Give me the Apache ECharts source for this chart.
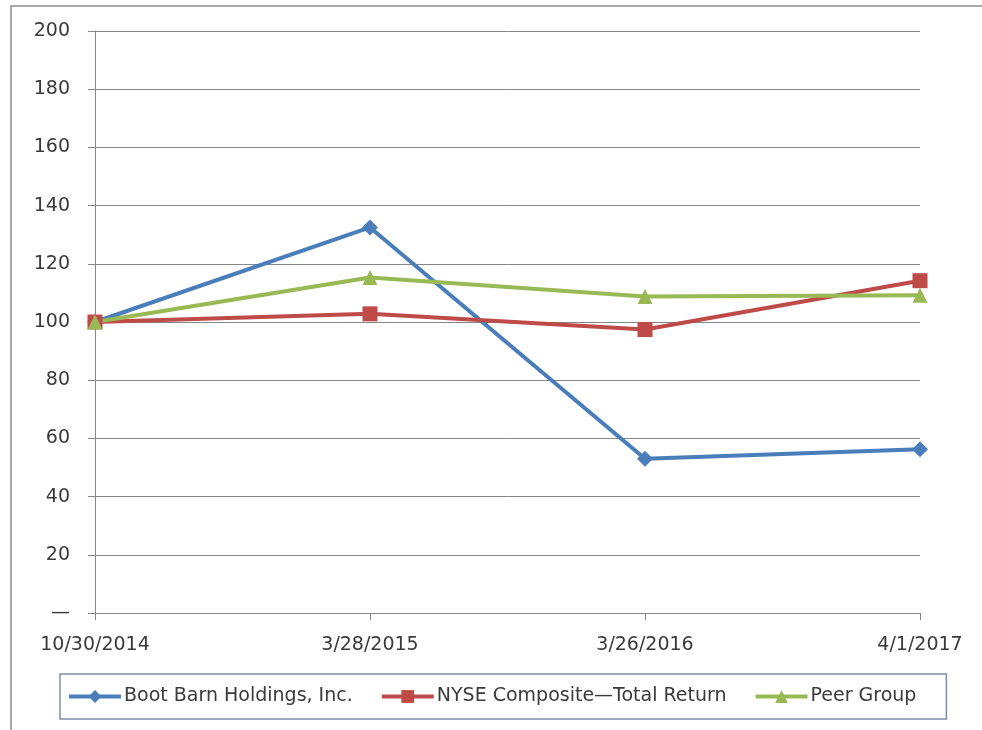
<!DOCTYPE html>
<html>
<head>
<meta charset="utf-8">
<script src="https://cdn.jsdelivr.net/npm/echarts@6/dist/echarts.min.js"></script>
<style>
  html, body { margin: 0; padding: 0; background: #fff; }
  #chart { width: 982px; height: 730px; }
</style>
</head>
<body>
<div id="chart"></div>
<script>
// data
const dates = ['10/30/2014', '3/28/2015', '3/26/2016', '4/1/2017'];
const bootBarn = [100, 132.5, 53, 56.3];
const nyse = [100, 102.8, 97.4, 114.2];
const peerGroup = [100, 115.3, 108.8, 109.2];
const seriesNames = ['Boot Barn Holdings, Inc.', 'NYSE Composite\u2014Total Return', 'Peer Group'];

const fontFamily = '"DejaVu Sans", sans-serif';
const textColor = '#3a3a3a';
const axisColor = '#868686';

let chart = echarts.init(document.getElementById('chart'), null, { renderer: 'canvas' });

function lineSeries(name, data, color, symbol, size) {
    return {
        name: name,
        type: 'line',
        data: data,
        symbol: symbol,
        symbolSize: size,
        lineStyle: { width: 4, color: color },
        itemStyle: { color: color },
        emphasis: { disabled: true },
        animation: false
    };
}

let option = {
    backgroundColor: '#fff',
    animation: false,
    graphic: [
        {
            type: 'rect',
            shape: { x: 11, y: 6, width: 1000, height: 740 },
            style: { fill: 'none', stroke: '#8c8c8c', lineWidth: 1.5 },
            z: -1
        }
    ],
    grid: {
        left: 95,
        right: 62,
        top: 31,
        bottom: 117,
        containLabel: false
    },
    legend: {
        left: 60,
        top: 674,
        padding: [13, 30, 13, 7],
        itemGap: 27,
        itemWidth: 52,
        itemHeight: 16,
        borderColor: '#7f8fa9',
        borderWidth: 1.5,
        lineStyle: { width: 4 },
        textStyle: { fontFamily: fontFamily, fontSize: 19, color: textColor, padding: [0, 0, 0, -2] },
        data: seriesNames
    },
    xAxis: {
        type: 'category',
        data: dates,
        boundaryGap: false,
        axisLine: { lineStyle: { color: axisColor, width: 1 } },
        axisTick: { show: true, length: 7, lineStyle: { color: axisColor } },
        axisLabel: {
            fontFamily: fontFamily,
            fontSize: 19,
            color: textColor,
            margin: 23,
            interval: 0
        },
        splitLine: { show: false }
    },
    yAxis: {
        type: 'value',
        min: 0,
        max: 200,
        interval: 20,
        axisLine: { show: true, lineStyle: { color: axisColor, width: 1 } },
        axisTick: { show: true, length: 7, lineStyle: { color: axisColor } },
        axisLabel: {
            fontFamily: fontFamily,
            fontSize: 19,
            color: textColor,
            margin: 25,
            formatter: function (v) { return v === 0 ? '\u2014' : String(v); }
        },
        splitLine: { show: true, lineStyle: { color: axisColor, width: 1 } }
    },
    series: [
        lineSeries(seriesNames[0], bootBarn, '#4a7ebb', 'diamond', 16),
        lineSeries(seriesNames[1], nyse, '#be4b48', 'rect', 15),
        lineSeries(seriesNames[2], peerGroup, '#98b954', 'triangle', 15)
    ]
};

chart.setOption(option);
</script>
</body>
</html>
